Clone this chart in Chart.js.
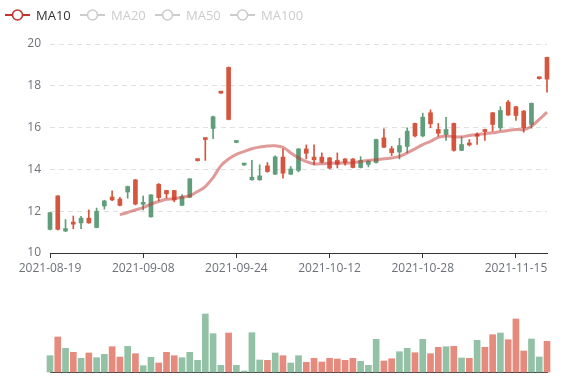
<!DOCTYPE html>
<html>
<head>
<meta charset="utf-8">
<script src="https://cdn.jsdelivr.net/npm/chart.js@4.4.0/dist/chart.umd.min.js"></script>
<style>
  html, body { margin: 0; padding: 0; background: #fff; }
  #wrap { position: relative; width: 577px; height: 380px; overflow: hidden; font-family: 'Open Sans', sans-serif; }
  #price { position: absolute; left: 0; top: 0; }
  #volume { position: absolute; left: 0; top: 290px; }
  .legend-item { position: absolute; top: 8px; height: 14px; display: flex; align-items: center; font-size: 13px; line-height: 14px; white-space: nowrap; }
  .legend-item svg { margin-right: 6px; flex: none; }
</style>
</head>
<body>
<div id="wrap">
  <canvas id="price" width="577" height="285"></canvas>
  <canvas id="volume" width="577" height="90"></canvas>
  <div id="legend"></div>
</div>
<script>
const dates = [
  '2021-08-19', '2021-08-20', '2021-08-23', '2021-08-24', '2021-08-25', '2021-08-26', '2021-08-27', '2021-08-30', '2021-08-31', '2021-09-01',
  '2021-09-02', '2021-09-07', '2021-09-08', '2021-09-09', '2021-09-10', '2021-09-13', '2021-09-14', '2021-09-15', '2021-09-16', '2021-09-17',
  '2021-09-20', '2021-09-21', '2021-09-22', '2021-09-23', '2021-09-24', '2021-09-27', '2021-09-28', '2021-09-29', '2021-09-30', '2021-10-01',
  '2021-10-04', '2021-10-05', '2021-10-06', '2021-10-07', '2021-10-08', '2021-10-11', '2021-10-12', '2021-10-13', '2021-10-14', '2021-10-15',
  '2021-10-18', '2021-10-19', '2021-10-20', '2021-10-21', '2021-10-22', '2021-10-25', '2021-10-26', '2021-10-27', '2021-10-28', '2021-10-29',
  '2021-11-01', '2021-11-02', '2021-11-03', '2021-11-04', '2021-11-05', '2021-11-08', '2021-11-09', '2021-11-10', '2021-11-11', '2021-11-12',
  '2021-11-15', '2021-11-16', '2021-11-17', '2021-11-18', '2021-11-19'
];

const open = [
  11.93, 11.13, 11.17, 11.38, 11.67, 11.44, 12.00, 12.49, 12.54, 12.28,
  13.18, 12.34, 12.41, 12.78, 12.65, 12.83, 12.54, 12.70, 13.55, 14.42,
  15.43, 16.52, 17.65, 16.39, 15.29, 14.21, 13.63, 13.69, 13.90, 14.60,
  13.82, 14.02, 14.98, 14.77, 14.46, 14.35, 14.06, 14.24, 14.33, 14.09,
  14.42, 14.40, 15.43, 15.06, 14.80, 15.14, 15.83, 15.60, 16.50, 16.18,
  15.73, 15.91, 14.91, 15.19, 15.17, 15.58, 15.81, 16.15, 16.82, 16.60,
  16.58, 15.99, 17.16, 18.34, 18.32
];
const close = [
  11.13, 12.73, 11.05, 11.48, 11.44, 11.67, 11.22, 12.25, 12.68, 12.58,
  12.92, 13.50, 12.33, 11.73, 13.29, 12.99, 12.99, 12.28, 12.67, 14.42,
  15.43, 15.96, 17.65, 18.88, 15.29, 14.21, 13.50, 13.50, 14.17, 13.77,
  14.59, 13.77, 13.95, 14.98, 14.59, 14.59, 14.55, 14.43, 14.50, 14.50,
  14.09, 14.24, 14.33, 15.51, 14.99, 14.83, 15.10, 16.20, 15.60, 16.71,
  15.91, 15.67, 16.20, 14.91, 15.25, 15.58, 15.91, 16.71, 15.99, 17.22,
  17.00, 16.79, 16.15, 18.34, 19.36
];
const low = [
  11.10, 11.10, 11.02, 11.16, 11.16, 11.42, 11.20, 12.10, 12.50, 12.25,
  12.62, 12.30, 12.06, 11.72, 12.50, 12.63, 12.45, 12.26, 12.65, 14.40,
  14.43, 15.47, 17.63, 16.37, 15.27, 14.19, 13.48, 13.48, 13.86, 13.75,
  13.58, 13.75, 13.88, 14.50, 14.22, 14.30, 14.02, 14.07, 14.20, 14.07,
  14.07, 14.12, 14.30, 15.04, 14.66, 14.50, 14.79, 15.55, 15.56, 15.99,
  15.59, 15.39, 14.87, 14.89, 15.12, 15.19, 15.39, 15.83, 15.88, 16.58,
  16.34, 15.78, 15.97, 18.32, 17.70
];
const high = [
  11.95, 12.75, 11.60, 11.77, 11.75, 12.06, 12.15, 12.52, 12.97, 12.66,
  13.20, 13.52, 12.73, 12.80, 13.32, 13.00, 13.00, 12.80, 13.56, 14.45,
  15.46, 16.55, 17.67, 18.90, 15.31, 14.23, 14.43, 14.22, 14.33, 14.65,
  14.99, 14.14, 15.00, 15.17, 15.17, 14.79, 14.58, 14.79, 14.52, 14.52,
  14.61, 14.42, 15.45, 15.94, 15.10, 15.49, 15.99, 16.22, 16.69, 16.85,
  16.20, 16.49, 16.22, 15.55, 15.43, 15.75, 15.93, 16.73, 17.00, 17.30,
  17.02, 16.82, 17.18, 18.36, 19.38
];
const ma10 = [
  null, null, null, null, null, null, null, null, null, 11.83,
  11.94, 12.06, 12.17, 12.34, 12.46, 12.57, 12.60, 12.67, 12.74, 12.94,
  13.18, 13.61, 14.17, 14.50, 14.72, 14.86, 14.99, 15.07, 15.12, 15.13,
  15.06, 14.79, 14.55, 14.37, 14.27, 14.27, 14.30, 14.31, 14.30, 14.32,
  14.38, 14.43, 14.46, 14.51, 14.55, 14.62, 14.79, 14.98, 15.19, 15.34,
  15.53, 15.60, 15.56, 15.56, 15.62, 15.67, 15.71, 15.75, 15.81, 15.86,
  15.91, 15.91, 16.07, 16.39, 16.74
];
// volume, millions
const volume = [
  1.63, 3.50, 2.37, 1.97, 1.37, 1.90, 1.43, 1.77, 2.53, 1.50,
  2.57, 1.83, 0.63, 1.47, 0.90, 1.97, 1.63, 1.43, 1.97, 1.17,
  5.80, 3.83, 0.67, 3.90, 0.67, 0.10, 3.93, 1.20, 1.17, 1.90,
  1.63, 0.90, 1.63, 0.97, 1.37, 1.00, 1.37, 1.30, 1.17, 1.37,
  1.07, 0.67, 3.27, 1.10, 1.33, 2.03, 2.37, 1.93, 3.27, 1.83,
  2.47, 2.53, 2.57, 1.40, 1.37, 3.17, 2.47, 3.73, 3.90, 3.23,
  5.30, 2.10, 3.30, 1.50, 3.07
];
const legendNames = ['MA10', 'MA20', 'MA50', 'MA100'];
const legendShown = [true, false, false, false];

const UP = '#d6553f';
const DOWN = '#609d7a';
const UP_VOL = '#e58a7c';
const DOWN_VOL = '#93c1a6';
const MA_COLOR = '#c23531';
const FONT = "'Open Sans', sans-serif";

Chart.defaults.font.family = FONT;
Chart.defaults.font.size = 12;

// candle colour: up/down, doji compared with previous close
const candleColors = close.map((c, i) => {
  if (c > open[i]) return UP;
  if (c < open[i]) return DOWN;
  return i > 0 && c >= close[i - 1] ? UP : DOWN;
});
const volColors = close.map((c, i) => c > open[i] ? UP_VOL : DOWN_VOL);

const bodies = open.map((o, i) => [o, close[i]]);
const wicks = low.map((l, i) => [l, high[i]]);

new Chart(document.getElementById('price'), {
  type: 'bar',
  data: {
    labels: dates,
    datasets: [
      {
        type: 'line',
        label: 'MA10',
        data: ma10,
        borderColor: 'rgba(194,53,49,0.5)',
        borderWidth: 3,
        pointRadius: 0,
        tension: 0.4,
        spanGaps: true,
        order: 0,
        clip: false
      },
      {
        label: 'body',
        data: bodies,
        backgroundColor: candleColors,
        barThickness: 4,
        minBarLength: 2,
        grouped: false,
        order: 1,
        clip: false
      },
      {
        label: 'wick',
        data: wicks,
        backgroundColor: candleColors,
        barThickness: 1,
        grouped: false,
        order: 2,
        clip: false
      }
    ]
  },
  options: {
    responsive: false,
    animation: false,
    layout: { padding: { top: 44, right: 30, left: 0, bottom: 0 } },
    plugins: { legend: { display: false }, tooltip: { enabled: false } },
    scales: {
      x: {
        offset: false,
        grid: {
          offset: false,
          drawOnChartArea: false,
          tickLength: 5,
          color: ctx => ctx.index % 12 === 0 ? '#333' : 'rgba(0,0,0,0)'
        },
        border: { color: '#333', width: 1 },
        ticks: {
          autoSkip: false,
          maxRotation: 0,
          padding: 3,
          color: '#6e7079',
          callback: (v, i) => i % 12 === 0 ? dates[i] : ''
        },
        afterFit: s => { s.height = 32; }
      },
      y: {
        min: 10,
        max: 20,
        ticks: { stepSize: 2, padding: 9, color: '#6e7079' },
        grid: { color: '#e0e0e0', drawTicks: false },
        border: { display: false, dash: [5, 4] },
        afterFit: s => { s.width = 50; }
      }
    }
  }
});

new Chart(document.getElementById('volume'), {
  type: 'bar',
  data: {
    labels: dates,
    datasets: [{
      label: 'Volume',
      data: volume,
      backgroundColor: volColors,
      barThickness: 6,
      clip: false
    }]
  },
  options: {
    responsive: false,
    animation: false,
    layout: { padding: { top: 10, right: 30, left: 50, bottom: 0 } },
    plugins: { legend: { display: false }, tooltip: { enabled: false } },
    scales: {
      x: {
        offset: false,
        grid: { display: false, offset: false },
        border: { color: '#333', width: 1 },
        ticks: { display: false },
        afterFit: s => { s.height = 8; }
      },
      y: { display: false, min: 0, max: 7.2 }
    }
  }
});

// legend (only MA10 is switched on)
const legendEl = document.getElementById('legend');
legendNames.forEach((name, i) => {
  const col = legendShown[i] ? MA_COLOR : '#ccc';
  const item = document.createElement('div');
  item.className = 'legend-item';
  item.style.left = (5 + i * 75) + 'px';
  item.style.color = legendShown[i] ? '#333' : '#ccc';
  item.innerHTML =
    '<svg width="25" height="14" viewBox="0 0 25 14">' +
    '<line x1="0" y1="7" x2="25" y2="7" stroke="' + col + '" stroke-width="2"/>' +
    '<circle cx="12.5" cy="7" r="5" fill="#fff" stroke="' + col + '" stroke-width="1.6"/>' +
    '</svg><span>' + name + '</span>';
  legendEl.appendChild(item);
});
</script>
</body>
</html>
